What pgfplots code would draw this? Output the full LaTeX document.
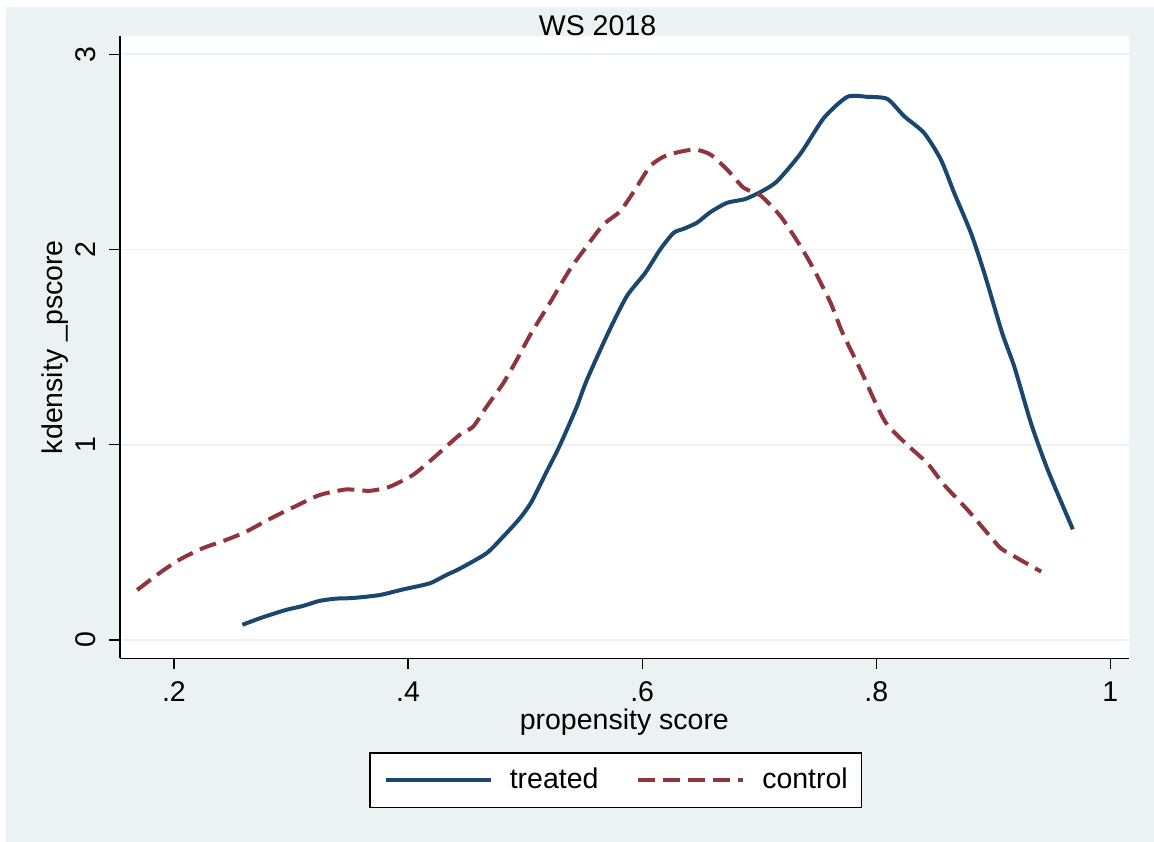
\documentclass[border=0pt]{standalone}
\usepackage{fontspec}
\setmainfont{Liberation Sans}
\usepackage{pgfplots}
\pgfplotsset{compat=1.18}
\definecolor{stnavy}{HTML}{1A476F}
\definecolor{stmaroon}{HTML}{90353B}
\definecolor{stbg}{HTML}{EAF2F3}
\newcommand{\fs}{\fontsize{11.4pt}{13.7pt}\selectfont}

\begin{document}
\begin{tikzpicture}
% page is 1154 x 842 px, 1 px = 0.4pt
\path[use as bounding box] (0pt,0pt) rectangle (461.6pt,336.8pt);
\fill[white] (0pt,0pt) rectangle (461.6pt,336.8pt);
\fill[stbg] (2.4pt,0pt) rectangle (461.6pt,334pt);
\begin{axis}[
    at={(48pt,73.48pt)}, anchor=south west,
    scale only axis,
    width=403.48pt, height=248.92pt,
    xmin=0.1539, xmax=1.0157,
    ymin=-0.0937, ymax=3.0937,
    axis background/.style={fill=white},
    axis lines=left,
    axis line style={black, line width=0.5pt, -},
    xtick={0.2,0.4,0.6,0.8,1}, xticklabels={.2,.4,.6,.8,1},
    ytick={0,1,2,3}, yticklabels={0,1,2,3},
    tick align=outside,
    major tick length=4.4pt,
    tick style={black, line width=0.5pt},
    ymajorgrids,
    grid style={stbg, line width=0.7pt},
    /pgf/number format/assume math mode=true,
    xticklabel shift=4.8pt, yticklabel shift=5.2pt,
    xticklabel style={anchor=north, inner sep=0pt, font=\fs},
    yticklabel style={rotate=90, anchor=south, inner sep=0pt, font=\fs},
    xlabel={propensity score},
    xlabel style={at={(axis description cs:0.5,-0.103)}, anchor=center, inner sep=0pt, font=\fs},
    ylabel={kdensity \_pscore},
    ylabel style={at={(axis description cs:-0.0644,0.5)}, anchor=center, inner sep=0pt, font=\fs},
    title={WS 2018},
    title style={at={(axis description cs:0.4734,1)}, anchor=base, yshift=-6pt, inner sep=0pt, font=\fs},
    legend columns=2,
    legend cell align=left,
    legend image code/.code={\draw[#1] (0pt,0pt) -- (42pt,0pt);},
    legend style={
        at={(axis description cs:0.4914,-0.1961)}, anchor=center,
        draw=black, line width=0.6pt, fill=white,
        inner xsep=5.5pt, inner ysep=6pt, font=\fs,
        nodes={inner sep=0pt},
        /tikz/every odd column/.append style={column sep=6.9pt},
        /tikz/every even column/.append style={column sep=15pt},
    },
]
% treated
\addplot[stnavy, line width=1.6pt, smooth, tension=0.4] coordinates {
(0.2585,0.078) (0.2757,0.116) (0.2957,0.154) (0.310,0.174) (0.3242,0.200)
(0.3385,0.212) (0.3527,0.215) (0.3756,0.230) (0.3956,0.259) (0.4184,0.290)
(0.4327,0.333) (0.4441,0.365) (0.467,0.444) (0.4812,0.529) (0.4955,0.623)
(0.5055,0.708) (0.5184,0.862) (0.5298,0.998) (0.5441,1.194) (0.5527,1.331)
(0.5712,1.576) (0.5869,1.761) (0.6026,1.880) (0.6154,2.000) (0.6268,2.085)
(0.6354,2.106) (0.6468,2.137) (0.6582,2.191) (0.6725,2.239) (0.6882,2.259)
(0.7025,2.299) (0.7154,2.350) (0.7353,2.491) (0.7553,2.674) (0.7753,2.782)
(0.7925,2.782) (0.8096,2.771) (0.8238,2.683) (0.8409,2.597) (0.8552,2.461)
(0.8666,2.290) (0.8809,2.085) (0.8923,1.880) (0.9074,1.576) (0.918,1.399)
(0.9323,1.109) (0.9466,0.870) (0.968,0.567)
};
\addlegendentry{treated}
% control
\addplot[stmaroon, line width=1.6pt, dash pattern=on 6.8pt off 3.2pt, smooth, tension=0.4] coordinates {
(0.1686,0.256) (0.1872,0.341) (0.2043,0.410) (0.2242,0.469) (0.2443,0.512)
(0.2614,0.554) (0.2828,0.623) (0.3028,0.682) (0.3242,0.742) (0.3471,0.771)
(0.367,0.764) (0.3842,0.785) (0.4041,0.845) (0.4213,0.930) (0.4441,1.051)
(0.4555,1.092) (0.467,1.194) (0.4812,1.314) (0.4927,1.433) (0.5048,1.567)
(0.5212,1.727) (0.5383,1.898) (0.5527,2.017) (0.5669,2.128) (0.5812,2.196)
(0.594,2.307) (0.6069,2.427) (0.6211,2.483) (0.644,2.512) (0.6582,2.487)
(0.6725,2.410) (0.6868,2.316) (0.7011,2.277) (0.7182,2.171) (0.7353,2.017)
(0.7467,1.898) (0.761,1.727) (0.771,1.576) (0.7867,1.382) (0.801,1.194)
(0.8096,1.101) (0.8267,0.998) (0.8439,0.904) (0.8581,0.794) (0.8781,0.666)
(0.8952,0.546) (0.9066,0.469) (0.9209,0.418) (0.9409,0.350)
};
\addlegendentry{control}
\end{axis}
\end{tikzpicture}
\end{document}
